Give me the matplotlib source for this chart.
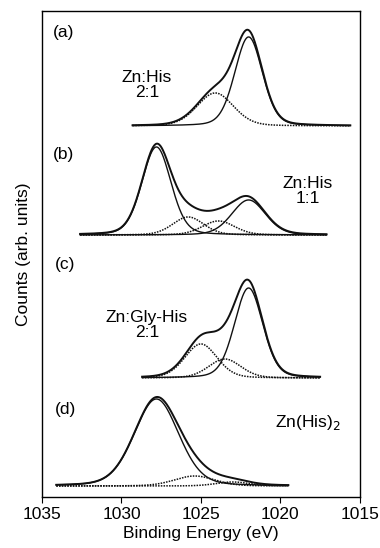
import numpy as np
import matplotlib
matplotlib.use('Agg')
import matplotlib.pyplot as plt

plt.rcParams['font.family'] = ['Liberation Sans', 'DejaVu Sans']

# peak parameters: centre (eV), height, FWHM (eV)
labels = ['(a)', '(b)', '(c)', '(d)']
samples = ['Zn:His\n2:1', 'Zn:His\n1:1', 'Zn:Gly-His\n2:1', 'Zn(His)$_2$']
baselines = [371, 262, 119, 11]
ranges = [(1029.3, 1015.6), (1032.6, 1017.1), (1028.7, 1017.5), (1034.1, 1019.5)]
centres = [[1022.0, 1024.1],
           [1027.8, 1025.8, 1023.9, 1022.0],
           [1022.0, 1025.0, 1023.5],
           [1027.8, 1025.4, 1023.0]]
heights = [[89, 33],
           [88, 18, 14, 35],
           [90, 34, 19],
           [87, 10, 4]]
fwhms = [[2.05, 2.7],
         [2.15, 2.3, 2.4, 2.5],
         [2.1, 2.4, 2.4],
         [3.3, 3.0, 2.5]]
solid_comp = [[0], [0, 3], [0], [0]]

def pv(x, c, h, w, eta=0.2):
	s = w / 2.3548
	g = np.exp(-0.5 * ((x - c) / s) ** 2)
	l = 1 / (1 + ((x - c) / (w / 2)) ** 2)
	return h * ((1 - eta) * g + eta * l)

fig = plt.figure(figsize=(3.8, 5.48), dpi=100)
ax = fig.add_axes([0.1105, 0.0931, 0.8365, 0.8869])

for i in range(4):
	x = np.linspace(ranges[i][0], ranges[i][1], 400)
	base = baselines[i]
	total = np.zeros_like(x)
	for k in range(len(centres[i])):
		comp = pv(x, centres[i][k], heights[i][k], fwhms[i][k])
		total += comp
		if k in solid_comp[i]:
			ax.plot(x, base + comp, color='#111111', lw=1.0)
		else:
			ax.plot(x, base + comp, color='#111111', lw=1.1, ls=(0, (1.0, 0.8)))
	ax.plot(x, base + total, color='#111111', lw=1.4)

fs = 12.5
ax.text(1034.3, 464, labels[0], fontsize=fs, va='center')
ax.text(1028.4, 412, samples[0], fontsize=fs, ha='center', va='center', linespacing=1.0)
ax.text(1034.3, 342, labels[1], fontsize=fs, va='center')
ax.text(1018.3, 306, samples[1], fontsize=fs, ha='center', va='center', linespacing=1.0)
ax.text(1034.2, 232, labels[2], fontsize=fs, va='center')
ax.text(1028.4, 172, samples[2], fontsize=fs, ha='center', va='center', linespacing=1.0)
ax.text(1034.2, 87, labels[3], fontsize=fs, va='center')
ax.text(1018.3, 74, samples[3], fontsize=fs, ha='center', va='center')

ax.set_xlim(1035, 1015)
ax.set_ylim(0, 486)
ax.set_xticks([1035, 1030, 1025, 1020, 1015])
ax.set_yticks([])
ax.tick_params(axis='x', direction='out', length=4, pad=3, labelsize=fs)
ax.set_xlabel('Binding Energy (eV)', fontsize=fs, labelpad=3)
ax.set_ylabel('Counts (arb. units)', fontsize=fs, labelpad=8)
for sp in ax.spines.values():
	sp.set_linewidth(1.0)

fig.savefig('out.png', dpi=100)
